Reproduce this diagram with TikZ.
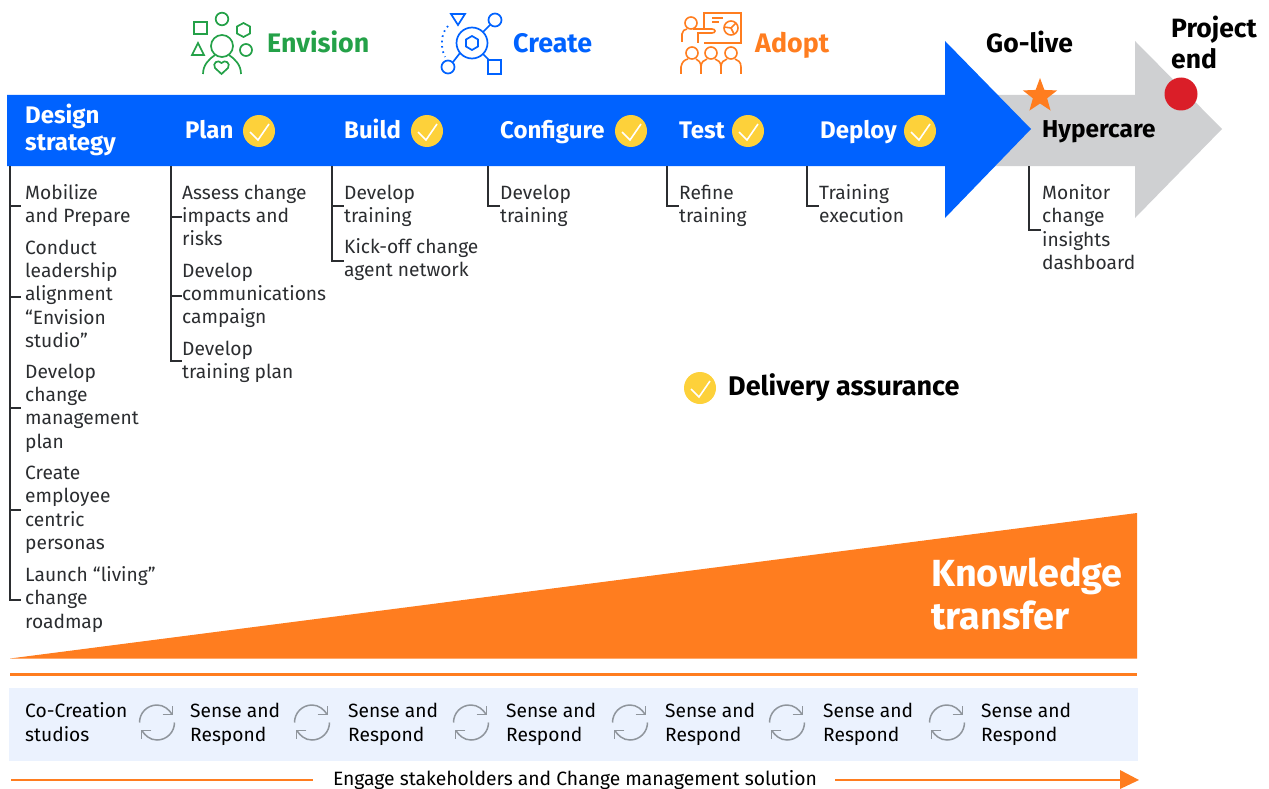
\documentclass[tikz,border=0pt]{standalone}
\usepackage{fontspec}
\setmainfont{Fira Sans}
\usetikzlibrary{shapes.geometric,arrows.meta}
\definecolor{ibmblue}{HTML}{0062FF}
\definecolor{ibmgray}{HTML}{CFD0D2}
\definecolor{ibmorange}{HTML}{FF7D1F}
\definecolor{ibmgreen}{HTML}{24A148}
\definecolor{ibmyellow}{HTML}{FDD13A}
\definecolor{ibmred}{HTML}{DA1E28}
\definecolor{ibmpale}{HTML}{EBF2FE}
\definecolor{ibmtext}{HTML}{2B2D30}
\definecolor{ibmloop}{HTML}{8F959C}
\tikzset{
  x=1pt,y=-1pt,
  txt/.style={anchor=north west,inner sep=0pt,align=left,font=\fontsize{19.2}{23.3}\selectfont,text=ibmtext},
  head/.style={anchor=base west,inner sep=0pt,font=\fontsize{24}{27}\selectfont\bfseries,text=white},
  phase/.style={anchor=base west,inner sep=0pt,font=\fontsize{26.8}{30}\selectfont\bfseries},
  blackhead/.style={anchor=base west,inner sep=0pt,align=left,font=\fontsize{26.5}{31}\selectfont\bfseries,text=black},
  bracket/.style={draw=ibmtext,line width=1.3pt},
  ck/.style={circle,fill=ibmyellow,minimum size=32pt,inner sep=0pt},
  sr/.style={anchor=north west,inner sep=0pt,align=left,font=\fontsize{19.2}{24}\selectfont,text=black},
}
\newcommand{\checkmk}[2]{%
  \node[ck] (#1) at (#2) {};
  \draw[white,line width=1.6pt] ([shift={(-9,1)}]#1.center) -- ([shift={(-1,9)}]#1.center) -- ([shift={(10,-7)}]#1.center);
}
\newcommand{\loopicon}[1]{%
  \begin{scope}[shift={(#1)},line width=1.5pt,draw=ibmloop]
    \draw (-17.5,0) .. controls (-17.5,-9.7) and (-9.7,-17.5) .. (0,-17.5) .. controls (7,-17.5) and (12,-13) .. (15,-8.2);
    \draw (5.7,-8.2) -- (15.3,-8.2) -- (15.3,-16.5);
    \draw (17.5,0) .. controls (17.5,9.7) and (9.7,17.5) .. (0,17.5) .. controls (-7,17.5) and (-12,13) .. (-15,8.2);
    \draw (-5.7,8.2) -- (-15.3,8.2) -- (-15.3,16.5);
  \end{scope}
}
\begin{document}
\begin{tikzpicture}
\useasboundingbox (0,0) rectangle (1269,789);
% arrows
\fill[ibmgray] (945,95) -- (1135,95) -- (1135,41) -- (1222,129) -- (1135,218) -- (1135,166) -- (945,166) -- cycle;
\fill[ibmblue] (7,95) -- (945,95) -- (945,41) -- (1031,129) -- (945,218) -- (945,166) -- (7,166) -- cycle;
% heads
\node[head,anchor=west,align=left] (ds) at (25,130) {Design\\strategy};
\node[head] (plan) at (185,138.5) {Plan};
\node[head] (build) at (344,138.5) {Build};
\node[head] (conf) at (500,138.5) {Configure};
\node[head] (test) at (679,138.5) {Test};
\node[head] (depl) at (820,138.5) {Deploy};
\node[blackhead,font=\fontsize{24.4}{28}\selectfont\bfseries] (hyper) at (1042,138) {Hypercare};
\checkmk{c1}{259,131}
\checkmk{c2}{427,131}
\checkmk{c3}{631,131}
\checkmk{c4}{748,131}
\checkmk{c5}{920,131}
\checkmk{c6}{700,388}
\node[blackhead,font=\fontsize{27}{31}\selectfont\bfseries] (da) at (728,395) {Delivery assurance};
% top labels
\node[phase,text=ibmgreen] (env) at (267,52.5) {Envision};
\node[phase,text=ibmblue] (cre) at (513,52.5) {Create};
\node[phase,text=ibmorange] (ado) at (755,52.5) {Adopt};
\node[blackhead] (gol) at (986,52.5) {Go-live};
\node[blackhead,anchor=west] (pe) at (1171,42) {Project\\end};
\node[star,star points=5,star point ratio=2.4,fill=ibmorange,minimum size=36pt,inner sep=0pt] (st) at (1040,96) {};
\node[circle,fill=ibmred,minimum size=33pt,inner sep=0pt] (re) at (1181,94) {};
% Envision icon
\begin{scope}[draw=ibmgreen,line width=1.7pt]
 \draw (222,19) circle (6.3);
 \draw (194,22) rectangle (207,34);
 \draw (243.5,23) -- (250,26.5) -- (250,33.5) -- (243.5,37) -- (237,33.5) -- (237,26.5) -- cycle;
 \draw (198,43) -- (204,55) -- (192,55) -- cycle;
 \draw (246,50) circle (6);
 \draw (222,46) circle (11);
 \draw (203,74) .. controls (203,65) and (209,59) .. (215,55);
 \draw (241,74) .. controls (241,65) and (235,59) .. (229,55);
 \draw (221.5,74) -- (215,68) .. controls (212,63) and (218,59) .. (221.5,63) .. controls (225,59) and (231,63) .. (228,68) -- cycle;
\end{scope}
% Create icon
\begin{scope}[draw=ibmblue,line width=1.7pt]
 \draw (451,14) -- (465,14) -- (458,25) -- cycle;
 \draw (472,43) circle (15.5);
 \draw (472,36) -- (478,39.5) -- (478,46.5) -- (472,50) -- (466,46.5) -- (466,39.5) -- cycle;
 \draw (495,20) circle (6.5);
 \draw (448,67) circle (6.5);
 \draw (488,60) rectangle (501,74);
 \draw (483,32) -- (490,25);
 \draw (453,62) -- (460,53);
 \draw (483,54) -- (489,60);
 \draw[line width=1.8pt,dash pattern=on 1.6pt off 3.8pt] (448,26) .. controls (441,33) and (440,47) .. (445,57);
\end{scope}
% Adopt icon
\begin{scope}[draw=ibmorange,line width=1.6pt]
 \draw (691,23) circle (6);
 \draw (682,42) -- (682,34) .. controls (682,31) and (685,29) .. (687,29);
 \draw (704,28) -- (704,13) -- (741,13) -- (741,43) -- (704,43);
 \draw (693,29) -- (712,29) .. controls (716,29) and (716,33) .. (712,33) -- (698,33) -- (698,43);
 \draw (712,18) -- (723,18);
 \draw (712,22) -- (719,22);
 \draw (731,28) circle (7);
 \draw (724,27) -- (731,28) -- (736,23);
 \draw (731,28) -- (734,34);
 \draw (692,53) circle (6);
 \draw (711,53) circle (6);
 \draw (731,53) circle (6);
 \draw (681,74) -- (681,67) .. controls (682,62) and (684,60) .. (688,59);
 \draw (701,74) -- (701,67) .. controls (701,62) and (698,60) .. (696,59);
 \draw (701,74) -- (701,67) .. controls (701,62) and (704,60) .. (707,59);
 \draw (721,74) -- (721,67) .. controls (721,62) and (718,60) .. (715,59);
 \draw (721,74) -- (721,67) .. controls (721,62) and (724,60) .. (727,59);
 \draw (741,74) -- (741,67) .. controls (741,62) and (738,60) .. (735,59);
\end{scope}
% brackets
\coordinate (b1a) at (10,166);\coordinate (b1b) at (10,600);
\draw[bracket] (b1a) -- (b1b) -- (21,600);
\draw[bracket] (10,206) -- (21,206);
\draw[bracket] (10,297) -- (21,297);
\draw[bracket] (10,408) -- (21,408);
\draw[bracket] (10,510) -- (21,510);
\draw[bracket] (171,166) -- (171,361) -- (182,361);
\draw[bracket] (171,217) -- (182,217);
\draw[bracket] (171,296) -- (182,296);
\draw[bracket] (332,166) -- (332,261) -- (344,261);
\draw[bracket] (332,206) -- (344,206);
\draw[bracket] (488,166) -- (488,206) -- (500,206);
\draw[bracket] (667,166) -- (667,206) -- (679,206);
\draw[bracket] (807,166) -- (807,206) -- (819,206);
\draw[bracket] (1029,166) -- (1029,230) -- (1041,230);
% body text
\node[txt] (t1) at (25,184.5) {Mobilize\\and Prepare};
\node[txt] (t2) at (25,239.5) {Conduct\\leadership\\alignment\\“Envision\\studio”};
\node[txt] (t3) at (25,363.5) {Develop\\change\\management\\plan};
\node[txt] (t4) at (25,466) {Create\\employee\\centric\\personas};
\node[txt] (t5) at (25,566.5) {Launch “living”\\change\\roadmap};
\node[txt] (t6) at (182,184.5) {Assess change\\impacts and\\risks};
\node[txt] (t7) at (182,262.5) {Develop\\communications\\campaign};
\node[txt] (t8) at (182,340.5) {Develop\\training plan};
\node[txt] (t9) at (344,184.5) {Develop\\training};
\node[txt] (t10) at (344,238.5) {Kick-off change\\agent network};
\node[txt] (t11) at (500,184.5) {Develop\\training};
\node[txt] (t12) at (679,184.5) {Refine\\training};
\node[txt] (t13) at (819,184.5) {Training\\execution};
\node[txt] (t14) at (1042,184.5) {Monitor\\change\\insights\\dashboard};
% knowledge transfer
\fill[ibmorange] (10,658.5) -- (1137,513) -- (1137,658.5) -- cycle;
\node[anchor=west,inner sep=0pt,align=left,text=white,font=\fontsize{37.8}{43}\selectfont\bfseries] (kt) at (931,594) {Knowledge\\transfer};
\fill[ibmorange] (10,673) rectangle (1137,675.5);
% band
\fill[ibmpale] (9,688) rectangle (1138,761);
\node[sr] (co) at (25,702.5) {Co-Creation\\studios};
\loopicon{157,722.5}
\node[sr] (s1) at (190,702.5) {Sense and\\Respond};
\loopicon{312,722.5}
\node[sr] (s2) at (348,702.5) {Sense and\\Respond};
\loopicon{471,722.5}
\node[sr] (s3) at (506,702.5) {Sense and\\Respond};
\loopicon{630,722.5}
\node[sr] (s4) at (665,702.5) {Sense and\\Respond};
\loopicon{787,722.5}
\node[sr] (s5) at (823,702.5) {Sense and\\Respond};
\loopicon{947,722.5}
\node[sr] (s6) at (981,702.5) {Sense and\\Respond};
% bottom line
\node[anchor=base,inner sep=0pt,font=\fontsize{19.3}{22}\selectfont,text=black] (eng) at (575,785) {Engage stakeholders and Change management solution};
\coordinate (l1) at (11,780);\coordinate (l2) at (313,780);\coordinate (r1) at (835,780);\coordinate (r2) at (1139,780);
\draw[ibmorange,line width=1.8pt] (l1) -- (l2);
\draw[ibmorange,line width=1.8pt] (r1) -- (1125,780);
\fill[ibmorange] (1120,770) -- (r2) -- (1120,789) -- cycle;
\end{tikzpicture}
\end{document}
